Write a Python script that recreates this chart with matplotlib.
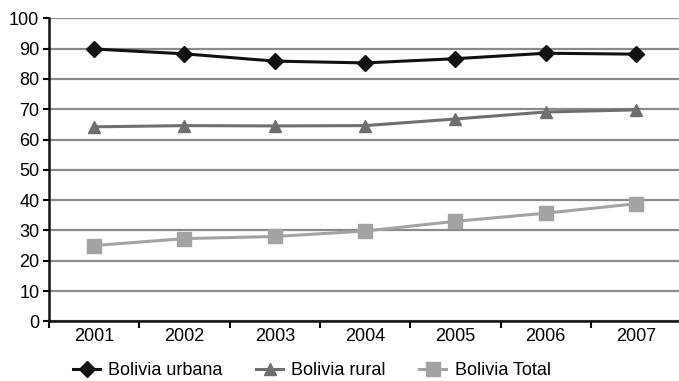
import matplotlib.pyplot as plt
import numpy as np

years = ["2001", "2002", "2003", "2004", "2005", "2006", "2007"]
urbana = [89.9, 88.3, 85.9, 85.3, 86.7, 88.5, 88.2]
rural = [64.2, 64.6, 64.5, 64.6, 66.8, 69.1, 69.8]
total = [25.0, 27.3, 28.0, 29.8, 33.0, 35.7, 38.8]

plt.rcParams["font.family"] = ["Liberation Sans", "DejaVu Sans"]

fig = plt.figure(figsize=(6.79, 3.81), dpi=100)
ax = fig.add_axes([0.0722, 0.1567, 0.931, 0.795])

x = np.arange(1, len(years) + 1)

ax.plot(x, urbana, color="#111111", lw=2.2, marker="D", ms=8, label="Bolivia urbana", zorder=5)
ax.plot(x, rural, color="#6f6f6f", lw=2.2, marker="^", ms=9, label="Bolivia rural", zorder=4)
ax.plot(x, total, color="#a3a3a3", lw=2.2, marker="s", ms=10, label="Bolivia Total", zorder=3)

ax.set_xlim(0.5, len(years) + 0.5)
ax.set_ylim(0, 100)
ax.set_yticks(range(0, 101, 10))
ax.yaxis.grid(True, color="#8a8a8a", lw=1.6)
ax.set_axisbelow(True)

# category labels centred, tick marks between categories
ax.set_xticks(x)
ax.set_xticklabels(years)
ax.set_xticks(np.arange(0.5, len(years) + 1, 1), minor=True)
ax.tick_params(axis="x", which="major", length=0, labelsize=13, pad=5)
ax.tick_params(axis="x", which="minor", length=5, width=1.5, direction="out")
ax.tick_params(axis="y", length=4, width=1.5, labelsize=13, pad=3)

for side in ["top", "right"]:
    ax.spines[side].set_visible(False)
for side in ["left", "bottom"]:
    ax.spines[side].set_linewidth(1.8)
    ax.spines[side].set_color("#111111")

fig.legend(loc="lower left", bbox_to_anchor=(0.084, -0.038), ncol=3, frameon=False,
           fontsize=13, handlelength=1.5, columnspacing=1.85, handletextpad=0.45)

fig.savefig("out.png", dpi=100)
